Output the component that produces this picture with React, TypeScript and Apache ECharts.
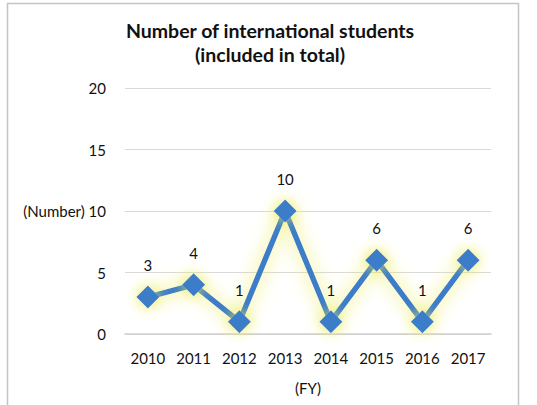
import React, { useEffect, useRef } from "react";
import * as echarts from "echarts";

const categories = ["2010", "2011", "2012", "2013", "2014", "2015", "2016", "2017"];
const studentCounts = [3, 4, 1, 10, 1, 6, 1, 6];
const yTicks = { min: 0, max: 20, interval: 5 };
const titleLines = ["Number of international students", "(included in total)"];

export default function App() {
  const ref = useRef<HTMLDivElement>(null);
  useEffect(() => {
    document.body.style.margin = "0";
    const chart = echarts.init(ref.current!, null, { renderer: "svg" });
    const font = "Lato, 'Open Sans', sans-serif";
    chart.setOption({
      animation: false,
      backgroundColor: "#ffffff",
      title: {
        text: titleLines.join("\n"),
        left: 265,
        top: 13,
        textAlign: "center",
        textStyle: { fontFamily: font, fontSize: 19.5, fontWeight: "bold", color: "#111", lineHeight: 24 },
      },
      graphic: [
        {
          type: "rect",
          shape: { x: 7.5, y: 3.5, width: 511, height: 420 },
          style: { fill: "none", stroke: "#c4c4c4", lineWidth: 1.5 },
          silent: true,
        },
      ],
      grid: { left: 125, right: 46, top: 88, bottom: 71 },
      xAxis: {
        type: "category",
        data: categories,
        boundaryGap: true,
        axisLine: { lineStyle: { color: "#d0d0d0", width: 1.5 } },
        axisTick: { show: false },
        axisLabel: { fontFamily: font, fontSize: 15, color: "#111", margin: 16 },
        name: "(FY)",
        nameLocation: "middle",
        nameGap: 46,
        nameTextStyle: { fontFamily: font, fontSize: 15, color: "#111" },
      },
      yAxis: {
        type: "value",
        min: yTicks.min,
        max: yTicks.max,
        interval: yTicks.interval,
        axisLine: { show: false },
        axisTick: { show: false },
        splitLine: { lineStyle: { color: "#d9d9d9", width: 1.2 } },
        axisLabel: {
          fontFamily: font,
          fontSize: 15,
          color: "#111",
          margin: 19,
          formatter: (v: number) => (v === 10 ? "(Number) 10" : String(v)),
        },
      },
      series: [
        {
          type: "line",
          data: studentCounts,
          symbol: "diamond",
          symbolSize: 23,
          lineStyle: {
            color: "#3a7dc8",
            width: 5.5,
            shadowColor: "rgba(235, 235, 80, 1)",
            shadowBlur: 18,
          },
          itemStyle: {
            color: "#3a7dc8",
            shadowColor: "rgba(235, 235, 80, 1)",
            shadowBlur: 14,
          },
          label: {
            show: true,
            position: "top",
            distance: 13,
            fontFamily: font,
            fontSize: 15,
            color: "#111",
          },
        },
      ],
    });
    return () => chart.dispose();
  }, []);
  return <div ref={ref} style={{ width: 537, height: 405 }} />;
}
